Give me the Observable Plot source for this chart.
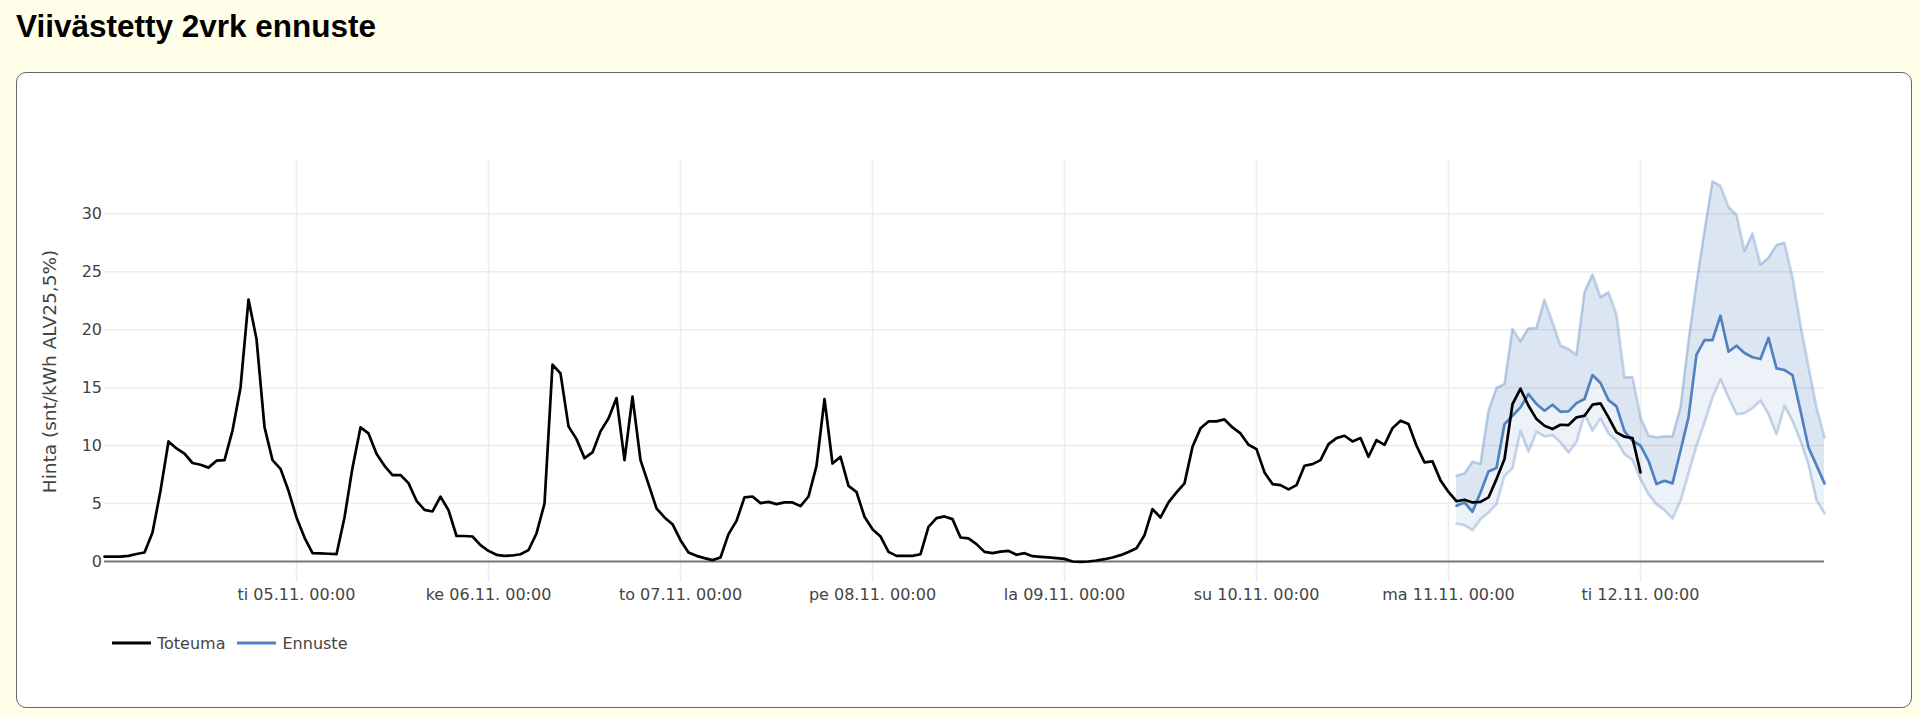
<!DOCTYPE html>
<html>
<head>
<meta charset="utf-8">
<script src="https://cdn.jsdelivr.net/npm/d3@7"></script>
<script src="https://cdn.jsdelivr.net/npm/@observablehq/plot@0.6"></script>
<style>
  html, body { margin: 0; padding: 0; width: 1920px; height: 718px; overflow: hidden; background: #fffee9; }
  #title { position: absolute; left: 16px; top: 10.6px; margin: 0; font-family: "Liberation Sans", Arial, sans-serif; font-weight: bold; font-size: 31.5px; line-height: 1; color: #000; white-space: nowrap; }
  #panel { position: absolute; left: 16px; top: 72px; width: 1896px; height: 636px; box-sizing: border-box; border: 1px solid #666; border-radius: 10px; background: #fff; }
  #chart { position: absolute; left: 0; top: 0; }
  #legend { position: absolute; left: 94.5px; top: 560px; height: 20px; display: flex; align-items: center; font-family: "DejaVu Sans", Verdana, sans-serif; font-size: 16px; color: #444; }
  .item { display: flex; align-items: center; }
  .item svg { margin-right: 6.5px; }
  .item + .item { margin-left: 11.5px; }
</style>
</head>
<body>
<div id="title">Viivästetty 2vrk ennuste</div>
<div id="panel">
  <div id="chart"></div>
  <div id="legend"></div>
</div>
<script>
// ---- data (hourly, UTC used as local clock) ----
const actualStart = "2024-11-04T00:00Z";
const forecastStart = "2024-11-11T01:00Z";
const domainStart = "2024-11-04T00:00Z";
const domainEnd = "2024-11-12T23:00Z";

const seriesNames = ["Toteuma", "Ennuste"];
const seriesColors = ["#000000", "#5281c0"];

const toteuma = [
  0.43, 0.43, 0.43, 0.49, 0.65, 0.78, 2.5, 6.1, 10.36, 9.76, 9.3, 8.5, 8.35, 8.1, 8.7, 8.75,
  11.3, 15.0, 22.6, 19.2, 11.6, 8.75, 8.0, 6.1,
  3.8, 2.07, 0.72, 0.7, 0.67, 0.63, 3.8, 8.1, 11.57, 11.05, 9.3, 8.26, 7.46, 7.46, 6.76, 5.24,
  4.46, 4.32, 5.6, 4.43, 2.2, 2.2, 2.16, 1.41,
  0.92, 0.58, 0.49, 0.52, 0.63, 0.98, 2.42, 5.0, 16.98, 16.23, 11.66, 10.56, 8.92, 9.41, 11.23, 12.35,
  14.1, 8.75, 14.22, 8.75, 6.68, 4.58, 3.8, 3.22,
  1.84, 0.78, 0.49, 0.29, 0.12, 0.35, 2.36, 3.51, 5.53, 5.61, 5.04, 5.15, 4.95, 5.1, 5.1, 4.78,
  5.61, 8.26, 14.02, 8.46, 9.04, 6.53, 6.0, 3.86,
  2.79, 2.16, 0.83, 0.49, 0.49, 0.49, 0.63, 2.99, 3.74, 3.89, 3.66, 2.07, 1.99, 1.5, 0.83, 0.72,
  0.86, 0.92, 0.58, 0.72, 0.46, 0.4, 0.35, 0.29,
  0.23, 0.0, -0.03, 0.0, 0.09, 0.2, 0.35, 0.55, 0.83, 1.15, 2.27, 4.52, 3.8, 5.1, 5.96, 6.74,
  9.9, 11.49, 12.09, 12.09, 12.26, 11.57, 11.05, 10.07,
  9.7, 7.69, 6.68, 6.59, 6.22, 6.59, 8.26, 8.4, 8.75, 10.13, 10.65, 10.85, 10.36, 10.65, 9.04, 10.48,
  10.07, 11.51, 12.15, 11.86, 9.99, 8.55, 8.64, 7.0,
  6.0, 5.2, 5.33, 5.1, 5.15, 5.53, 7.11, 8.84, 13.59, 14.91, 13.44, 12.29, 11.72, 11.43, 11.8, 11.77,
  12.44, 12.58, 13.53, 13.64, 12.44, 11.14, 10.77, 10.65,
  7.69
];

const ennuste = [
  4.81, 5.1, 4.29, 5.96, 7.77, 8.06, 11.86, 12.58, 13.3, 14.45, 13.59, 13.01, 13.53, 12.92, 12.95, 13.67,
  14.02, 16.09, 15.4, 13.93, 13.39, 11.23, 10.42,
  9.99, 8.69, 6.68, 6.97, 6.74, 9.56, 12.44, 17.85, 19.11, 19.11, 21.21, 18.1, 18.62, 17.99, 17.62,
  17.47, 19.29, 16.67, 16.52, 16.09, 13.0, 9.84, 8.3, 6.74
];

const ennusteYla = [
  7.4, 7.6, 8.61, 8.41, 13.01, 14.97, 15.31, 20.06, 19.0, 20.12, 20.15, 22.57, 20.64, 18.62, 18.34, 17.82,
  23.23, 24.76, 22.8, 23.23, 21.3, 15.89, 15.89,
  12.44, 10.85, 10.71, 10.79, 10.79, 13.3, 19.0, 24.0, 28.5, 32.8, 32.4, 30.6, 29.9, 26.8, 28.3,
  25.6, 26.2, 27.3, 27.5, 24.5, 20.4, 16.8, 13.3, 10.7
];

const ennusteAla = [
  3.28, 3.14, 2.71, 3.66, 4.23, 4.95, 7.4, 8.06, 11.28, 9.5, 11.2, 10.79, 10.91, 10.28, 9.41, 10.33,
  12.72, 11.28, 12.35, 11.05, 10.42, 9.27, 8.78,
  7.11, 5.81, 4.95, 4.43, 3.71, 5.24, 7.6, 9.99, 12.0, 14.16, 15.75, 14.16, 12.72, 12.81, 13.24,
  13.9, 12.72, 10.99, 13.44, 12.15, 10.42, 8.4, 5.3, 4.15
];

const yTicks = [0, 5, 10, 15, 20, 25, 30];
const xTickDates = ["2024-11-05T00:00Z", "2024-11-06T00:00Z", "2024-11-07T00:00Z", "2024-11-08T00:00Z",
                    "2024-11-09T00:00Z", "2024-11-10T00:00Z", "2024-11-11T00:00Z", "2024-11-12T00:00Z"];
const xTickLabels = ["ti 05.11. 00:00", "ke 06.11. 00:00", "to 07.11. 00:00", "pe 08.11. 00:00",
                     "la 09.11. 00:00", "su 10.11. 00:00", "ma 11.11. 00:00", "ti 12.11. 00:00"];
const yLabel = "Hinta (snt/kWh ALV25,5%)";

// ---- tables built from the arrays ----
const HOUR = 3600 * 1000;
const t0 = new Date(actualStart).getTime();
const f0 = new Date(forecastStart).getTime();
const actual = toteuma.map((v, i) => ({t: new Date(t0 + i * HOUR), v}));
const forecast = ennuste.map((v, i) => ({t: new Date(f0 + i * HOUR), mid: v, high: ennusteYla[i], low: ennusteAla[i]}));
const tickDates = xTickDates.map(d => new Date(d));

const blue = seriesColors[1];
const chart = Plot.plot({
  width: 1894,
  height: 550,
  marginLeft: 87,
  marginRight: 87,
  marginTop: 87,
  marginBottom: 41,
  style: {fontFamily: '"DejaVu Sans", Verdana, sans-serif', fontSize: "16px", color: "#444", background: "transparent", overflow: "visible"},
  x: {type: "utc", domain: [new Date(domainStart), new Date(domainEnd)]},
  y: {domain: [-1.81, 34.6]},
  marks: [
    Plot.gridY(yTicks, {stroke: "#ececec", strokeOpacity: 1, strokeWidth: 1.5}),
    Plot.gridX(tickDates, {stroke: "#ececec", strokeOpacity: 1, strokeWidth: 1.5}),
    Plot.areaY(forecast, {x: "t", y1: "low", y2: "mid", fill: blue, fillOpacity: 0.1}),
    Plot.areaY(forecast, {x: "t", y1: "mid", y2: "high", fill: blue, fillOpacity: 0.2}),
    Plot.ruleY([0], {stroke: "#777", strokeWidth: 2}),
    Plot.lineY(forecast, {x: "t", y: "low", stroke: blue, strokeOpacity: 0.33, strokeWidth: 2.7}),
    Plot.lineY(forecast, {x: "t", y: "high", stroke: blue, strokeOpacity: 0.33, strokeWidth: 2.7}),
    Plot.lineY(forecast, {x: "t", y: "mid", stroke: blue, strokeWidth: 2.7}),
    Plot.lineY(actual, {x: "t", y: "v", stroke: seriesColors[0], strokeWidth: 2.7}),
    Plot.axisY(yTicks, {tickSize: 0, tickPadding: 2.5, label: null, fill: "#444"}),
    Plot.axisX(tickDates, {tickSize: 0, tickPadding: 6.5, label: null, fill: "#444", tickFormat: (d, i) => xTickLabels[i]}),
    Plot.text([yLabel], {text: d => d, frameAnchor: "left", textAnchor: "middle", rotate: -90, dx: -61.3, lineAnchor: "top", fontSize: 18.5, fill: "#444"})
  ]
});
document.getElementById("chart").appendChild(chart);

// ---- legend ----
const legend = document.getElementById("legend");
seriesNames.forEach((name, i) => {
  const item = document.createElement("div");
  item.className = "item";
  item.innerHTML = `<svg width="39" height="6"><line x1="0" y1="3" x2="39" y2="3" stroke="${seriesColors[i]}" stroke-width="3"/></svg><span>${name}</span>`;
  legend.appendChild(item);
});
</script>
</body>
</html>
